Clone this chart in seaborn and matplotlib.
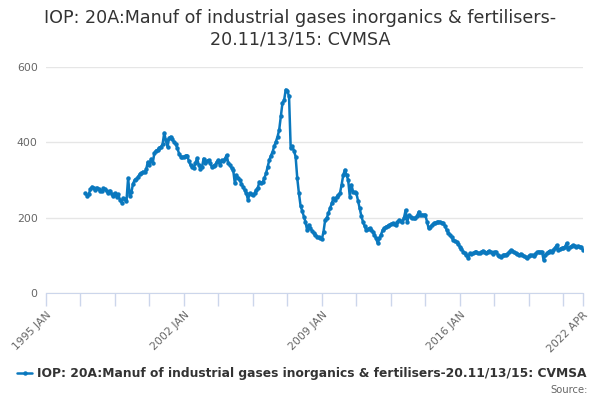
import matplotlib
matplotlib.use("Agg")
import matplotlib.pyplot as plt
import numpy as np
import pandas as pd
import seaborn as sns

# Monthly index values, 1997 JAN .. 2022 APR
start_year = 1997
v1997 = [265, 258, 262, 275, 282, 278, 274, 280, 276, 272, 270, 278]
v1998 = [275, 270, 265, 272, 262, 258, 265, 255, 262, 248, 240, 252]
v1999 = [250, 245, 305, 258, 268, 290, 300, 302, 308, 315, 318, 322]
v2000 = [320, 328, 348, 340, 356, 345, 372, 378, 380, 386, 388, 395]
v2001 = [425, 405, 388, 412, 415, 408, 400, 395, 385, 370, 362, 360]
v2002 = [362, 365, 365, 350, 340, 335, 332, 345, 358, 340, 330, 335]
v2003 = [357, 344, 350, 353, 345, 334, 338, 340, 348, 353, 340, 353]
v2004 = [350, 357, 366, 345, 340, 332, 326, 291, 313, 305, 300, 290]
v2005 = [282, 273, 265, 247, 265, 262, 260, 265, 273, 280, 295, 292]
v2006 = [295, 305, 318, 335, 353, 365, 375, 390, 402, 415, 433, 470]
v2007 = [505, 512, 540, 536, 522, 385, 390, 378, 362, 305, 265, 232]
v2008 = [218, 203, 189, 167, 181, 172, 165, 159, 155, 150, 148, 145]
v2009 = [143, 163, 194, 200, 212, 225, 238, 251, 247, 255, 260, 265]
v2010 = [287, 313, 327, 313, 300, 256, 287, 269, 267, 265, 245, 225]
v2011 = [205, 189, 178, 167, 170, 172, 168, 163, 155, 145, 132, 145]
v2012 = [155, 167, 172, 176, 178, 180, 183, 185, 182, 180, 188, 194]
v2013 = [190, 189, 200, 220, 189, 207, 202, 198, 198, 198, 205, 216]
v2014 = [207, 208, 207, 207, 189, 172, 176, 180, 185, 186, 188, 189]
v2015 = [189, 187, 185, 178, 167, 160, 154, 148, 141, 138, 136, 130]
v2016 = [123, 118, 110, 105, 101, 92, 105, 104, 105, 108, 110, 106]
v2017 = [105, 108, 112, 110, 106, 110, 112, 108, 104, 108, 110, 102]
v2018 = [98, 96, 100, 101, 102, 104, 108, 114, 112, 108, 105, 104]
v2019 = [102, 104, 100, 98, 95, 92, 97, 101, 100, 98, 104, 108]
v2020 = [110, 108, 110, 88, 100, 105, 110, 112, 110, 115, 120, 127]
v2021 = [115, 117, 119, 120, 122, 132, 118, 121, 124, 127, 125, 122]
v2022 = [125, 123, 121, 115]

series_name = "IOP: 20A:Manuf of industrial gases inorganics & fertilisers-20.11/13/15: CVMSA"
title = "IOP: 20A:Manuf of industrial gases inorganics & fertilisers-\n20.11/13/15: CVMSA"
tick_labels = ["1995 JAN", "2002 JAN", "2009 JAN", "2016 JAN", "2022 APR"]

values = (v1997 + v1998 + v1999 + v2000 + v2001 + v2002 + v2003 + v2004 + v2005
          + v2006 + v2007 + v2008 + v2009 + v2010 + v2011 + v2012 + v2013 + v2014
          + v2015 + v2016 + v2017 + v2018 + v2019 + v2020 + v2021 + v2022)

# category axis: months counted from 1995 JAN
first = (start_year - 1995) * 12
df = pd.DataFrame({"month": np.arange(first, first + len(values)), "value": values})
last = int(df["month"].max())

sns.set_style("white")
plt.rcParams["font.family"] = ["DejaVu Sans"]

blue = "#0a78be"
fig = plt.figure(figsize=(6, 4), dpi=100)
ax = fig.add_axes([46 / 600, 1 - 293 / 400, (583 - 46) / 600, (293 - 67) / 400])

sns.lineplot(data=df, x="month", y="value", ax=ax, color=blue, lw=1.8,
             marker="o", markersize=3.2, markeredgewidth=0, label=series_name)

ax.set_xlim(0, last)
ax.set_ylim(0, 600)
ax.set_yticks([0, 200, 400, 600])
ax.yaxis.grid(True, color="#e6e6e6", lw=1)
ax.set_axisbelow(True)
for s in ["top", "right", "left"]:
    ax.spines[s].set_visible(False)
ax.spines["bottom"].set_color("#ccd6eb")
ax.tick_params(axis="y", length=0, labelsize=7.8, labelcolor="#666666", pad=6)

major = [0, 84, 168, 252, last]
minor = [m for m in range(0, last, 21) if m not in major]
ax.set_xticks(major)
ax.set_xticklabels(tick_labels, rotation=45, ha="right", rotation_mode="anchor")
ax.set_xticks(minor, minor=True)
ax.tick_params(axis="x", which="both", bottom=True, length=9, color="#ccd6eb",
               width=1, direction="out", labelsize=7.8, labelcolor="#666666", pad=3)
ax.set_xlabel("")
ax.set_ylabel("")

fig.suptitle(title, x=0.5, y=0.978, fontsize=12.6, color="#333333", linespacing=1.25)

ax.legend(loc="center", bbox_to_anchor=(0.4767, -81 / 226), frameon=False,
          prop={"weight": "bold", "size": 8.8}, labelcolor="#333333",
          handlelength=1.2, handletextpad=0.4)
fig.text(588 / 600, 1 - 390 / 400, "Source:", ha="right", va="center",
         fontsize=7.2, color="#666666")

fig.savefig("out.png", dpi=100)
